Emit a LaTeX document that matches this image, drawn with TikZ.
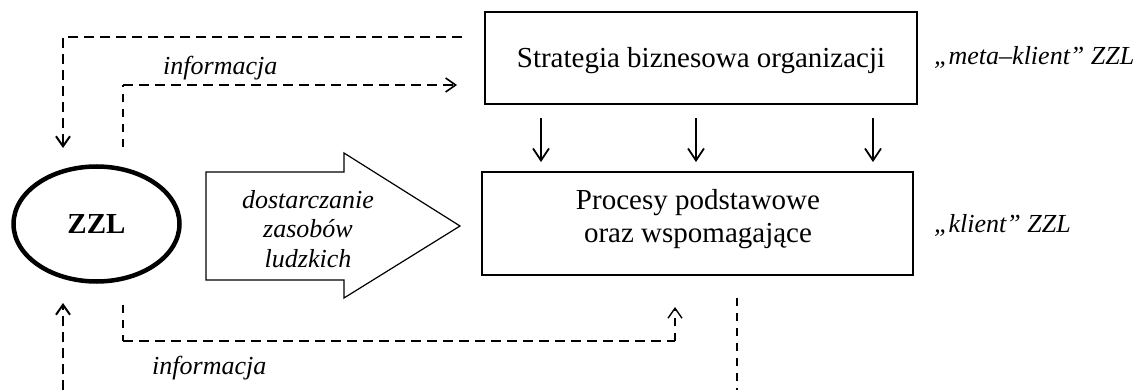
\documentclass[tikz,border=0pt]{standalone}
\usepackage{fontspec}
\setmainfont{Liberation Serif}
\usetikzlibrary{arrows.meta,shapes.geometric}
\begin{document}
\begin{tikzpicture}[x=1pt,y=-1pt,
  box/.style={draw, line width=2pt, inner sep=0pt},
  boxtxt/.style={inner sep=0pt, font=\fontsize{29}{33}\selectfont, align=center},
  itxt/.style={inner sep=0pt, font=\fontsize{26}{29.5}\selectfont\itshape, align=center},
  solidarr/.style={line width=1.8pt, -{Straight Barb[length=12pt,width=16pt]}},
  dtip/.style={-{Straight Barb[length=10pt,width=14pt]}},
  outerdash/.style={line width=2pt, dash pattern=on 10pt off 6pt},
  middash/.style={line width=1.6pt, dash pattern=on 10pt off 6pt},
  thindash/.style={line width=1.2pt, dash pattern=on 8pt off 7pt}
]
\useasboundingbox (0,0) rectangle (1134,390);

% boxes
\node[box, minimum width=432pt, minimum height=92pt] (strat) at (700.5,58.2) {};
\node[boxtxt, anchor=base] (strattxt) at (701,68) {Strategia biznesowa organizacji};
\node[box, minimum width=431pt, minimum height=103pt] (proc) at (697.8,223.6) {};
\node[boxtxt] (proctxt) at (698,218.7) {Procesy podstawowe\\oraz wspomagające};

% ZZL ellipse
\node[ellipse, draw, line width=4.5pt, inner sep=0pt, minimum width=166pt, minimum height=115pt,
      font=\fontsize{29}{33}\selectfont\bfseries] (zzl) at (96.5,224) {ZZL};

% big arrow
\draw[line width=1.2pt, line join=miter] (206,172) -- (344,172) -- (344,153) -- (460,226)
   -- (344,298) -- (344,280) -- (206,280) -- cycle;
\node[itxt] (arrtxt) at (308,228.7) {dostarczanie\\zasobów\\ludzkich};

% labels
\node[itxt, anchor=base west] (meta) at (934,65) {„meta–klient” ZZL};
\node[itxt, anchor=base west] (klient) at (934,232) {„klient” ZZL};
\node[itxt, anchor=base west] (info1) at (163,75) {informacja};
\node[itxt, anchor=base west] (info2) at (152,374) {informacja};

% solid down arrows
\coordinate (c1) at (541,0);
\coordinate (c2) at (696,0);
\coordinate (c3) at (873,0);
\foreach \c in {c1,c2,c3}
  \draw[solidarr, shorten <=13pt, shorten >=9pt] (strat.south -| \c) -- (proc.north -| \c);

% outer top dashed loop
\coordinate (tA) at (462,37);
\coordinate (tB) at (63,148);
\draw[outerdash, dtip] (tA) -| (tB);

% upper information arrow
\coordinate (uA) at (123,147);
\coordinate (uB) at (123,85);
\coordinate (uC) at (457,85);
\draw[thindash] (uA) -- (uB);
\draw[middash, dtip] (uB) -- (uC);

% lower information arrow
\coordinate (lA) at (123,305);
\coordinate (lB) at (123,341);
\coordinate (lC) at (675,341);
\coordinate (lD) at (675,307);
\draw[thindash] (lA) -- (lB);
\draw[middash] (lB) -- (lC);
\draw[thindash, line width=1.4pt, dtip] (lC) -- (lD);

% bottom left arrow into ZZL
\coordinate (bA) at (63,390);
\coordinate (bB) at (63,303);
\draw[outerdash, dtip] (bA) -- (bB);

% right vertical dashed line
\coordinate (rA) at (737,298);
\coordinate (rB) at (737,390);
\draw[thindash] (rA) -- (rB);
\end{tikzpicture}
\end{document}
